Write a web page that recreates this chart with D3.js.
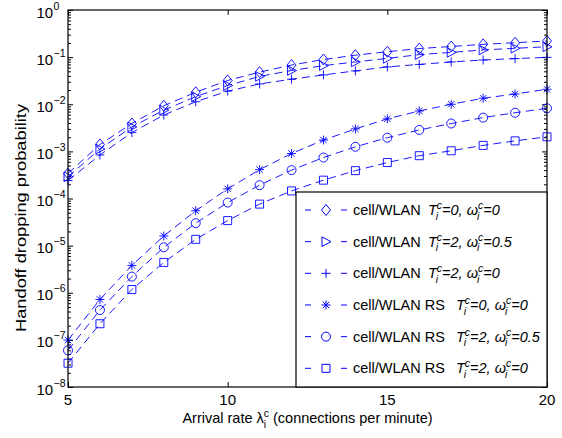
<!DOCTYPE html>
<html><head><meta charset="utf-8">
<script src="https://cdn.jsdelivr.net/npm/d3@7"></script>
<style>body{margin:0;background:#fff}svg{display:block}text{white-space:pre}</style>
</head><body><svg id="c" width="562" height="438"></svg>
<script>
// ---- data ----
const xValues = [5,6,7,8,9,10,11,12,13,14,15,16,17,18,19,20];
const cellT0W0 = [3.4e-4,1.4e-3,3.9e-3,9.3e-3,1.8e-2,3.2e-2,4.8e-2,6.8e-2,8.9e-2,0.110,0.130,0.152,0.168,0.187,0.202,0.220];
const cellT2W05 = [2.9e-4,1.12e-3,3.3e-3,7.5e-3,1.45e-2,2.5e-2,3.9e-2,5.2e-2,6.6e-2,7.9e-2,9.4e-2,0.113,0.126,0.142,0.154,0.166];
const cellT2W0 = [2.4e-4,8.4e-4,2.5e-3,5.9e-3,1.13e-2,1.9e-2,2.7e-2,3.4e-2,4.2e-2,5.1e-2,6.2e-2,7.0e-2,7.9e-2,8.7e-2,9.3e-2,9.9e-2];
const rsT0W0 = [9.9e-8,7.2e-7,3.8e-6,1.6e-5,5.5e-5,1.6e-4,4.1e-4,9.0e-4,1.74e-3,3.0e-3,4.9e-3,7.2e-3,1.0e-2,1.34e-2,1.65e-2,2.08e-2];
const rsT2W05 = [6.0e-8,4.3e-7,2.2e-6,9.2e-6,3.0e-5,8.2e-5,1.92e-4,4.0e-4,7.4e-4,1.25e-3,1.95e-3,2.85e-3,3.9e-3,5.2e-3,6.6e-3,8.2e-3];
const rsT2W0 = [3.2e-8,2.2e-7,1.17e-6,4.4e-6,1.36e-5,3.4e-5,7.6e-5,1.45e-4,2.45e-4,3.9e-4,5.8e-4,8.1e-4,1.03e-3,1.34e-3,1.67e-3,2.04e-3];
const seriesValues = [cellT0W0, cellT2W05, cellT2W0, rsT0W0, rsT2W05, rsT2W0];
const seriesMarkers = ['diamond','triangle','plus','star','circle','square'];
const legendSystem = ['cell/WLAN','cell/WLAN','cell/WLAN','cell/WLAN RS','cell/WLAN RS','cell/WLAN RS'];
const legendT = ['0','2','2','0','2','2'];
const legendW = ['0','0.5','0','0','0.5','0'];
const xTickValues = [5,10,15,20];
const yTickExponents = [0,-1,-2,-3,-4,-5,-6,-7,-8];
const xLabelMain = 'Arrival rate \u03BB';
const xLabelRest = ' (connections per minute)';
const yLabel = 'Handoff dropping probability';

// ---- layout ----
const FONT = '"Liberation Sans", Arial, Helvetica, sans-serif';
const L=68, R=547, T=10, B=387;
const BLUE = '#0000ff';
const svg = d3.select('#c').attr('font-family', FONT);
const x = d3.scaleLinear().domain([5,20]).range([L,R]);
const y = d3.scaleLog().domain([1e-8,1]).range([B,T]);

// ticks
const majorY = yTickExponents.map(e => Math.pow(10,e));
const minorY = [];
for (let e=-8;e<0;e++) for (let k=2;k<10;k++) minorY.push(k*Math.pow(10,e));

function styleAxis(g){
  g.select('.domain').remove();
  g.selectAll('line').attr('stroke','#000').attr('stroke-width',1);
  g.selectAll('text').remove();
}
svg.append('g').attr('transform',`translate(${L},0)`).call(d3.axisLeft(y).tickValues(majorY).tickSize(-5)).call(styleAxis);
svg.append('g').attr('transform',`translate(${L},0)`).call(d3.axisLeft(y).tickValues(minorY).tickSize(-3)).call(styleAxis);
svg.append('g').attr('transform',`translate(${R},0)`).call(d3.axisRight(y).tickValues(majorY).tickSize(-5)).call(styleAxis);
svg.append('g').attr('transform',`translate(${R},0)`).call(d3.axisRight(y).tickValues(minorY).tickSize(-3)).call(styleAxis);
svg.append('g').attr('transform',`translate(0,${B})`).call(d3.axisBottom(x).tickValues(xTickValues).tickSize(-5)).call(styleAxis);
svg.append('g').attr('transform',`translate(0,${T})`).call(d3.axisTop(x).tickValues(xTickValues).tickSize(-5)).call(styleAxis);

// y tick labels
yTickExponents.forEach(e => {
  const yy = y(Math.pow(10,e));
  svg.append('text').attr('x',36.5).attr('y',yy+7.5).attr('font-size',15).text('10');
  svg.append('text').attr('x',53.5).attr('y',yy-0.5).attr('font-size',10.5).text(e===0?'0':'\u2212'+(-e));
});
// x tick labels
xTickValues.forEach(v => {
  svg.append('text').attr('x',x(v)).attr('y',405).attr('font-size',15).attr('text-anchor','middle').text(v);
});

// ---- series ----
function markerPath(type, cx, cy){
  const p = d3.path();
  if (type==='diamond'){ p.moveTo(cx,cy-5.5); p.lineTo(cx+4.5,cy); p.lineTo(cx,cy+5.5); p.lineTo(cx-4.5,cy); p.closePath(); }
  else if (type==='triangle'){ p.moveTo(cx+5,cy); p.lineTo(cx-4,cy-4.8); p.lineTo(cx-4,cy+4.8); p.closePath(); }
  else if (type==='plus'){ p.moveTo(cx-4.5,cy); p.lineTo(cx+4.5,cy); p.moveTo(cx,cy-4.5); p.lineTo(cx,cy+4.5); }
  else if (type==='star'){ p.moveTo(cx-4.5,cy); p.lineTo(cx+4.5,cy); p.moveTo(cx,cy-4.5); p.lineTo(cx,cy+4.5);
    p.moveTo(cx-3.2,cy-3.2); p.lineTo(cx+3.2,cy+3.2); p.moveTo(cx-3.2,cy+3.2); p.lineTo(cx+3.2,cy-3.2); }
  else if (type==='circle'){ p.moveTo(cx+4.5,cy); p.arc(cx,cy,4.5,0,2*Math.PI); }
  else if (type==='square'){ p.rect(cx-4,cy-4,8,8); }
  return p.toString();
}
const line = d3.line().x(d=>x(d[0])).y(d=>y(d[1]));
seriesValues.forEach((vals,i) => {
  const pts = xValues.map((xv,j)=>[xv, vals[j]]);
  const g = svg.append('g');
  g.append('path').attr('d',line(pts)).attr('fill','none').attr('stroke',BLUE).attr('stroke-width',0.9).attr('stroke-dasharray','8,5');
  g.selectAll('path.m').data(pts).enter().append('path').attr('class','m')
    .attr('d',d=>markerPath(seriesMarkers[i], x(d[0]), y(d[1])))
    .attr('fill','none').attr('stroke',BLUE).attr('stroke-width',0.9);
});

// axes box
svg.append('rect').attr('x',L).attr('y',T).attr('width',R-L).attr('height',B-T)
  .attr('fill','none').attr('stroke','#000').attr('stroke-width',1.2);

// ---- rich text helper ----
function rich(g, x0, yb, parts, fs){
  let cx = x0;
  parts.forEach(p => {
    if (p.t !== undefined){
      const t = g.append('text').attr('x',cx).attr('y',yb).attr('font-size',fs)
        .attr('font-style',p.it?'italic':'normal').text(p.t);
      cx += t.node().getComputedTextLength();
    } else {
      const a = g.append('text').attr('x',cx).attr('y',yb-fs*0.42).attr('font-size',fs*0.72)
        .attr('font-style',p.it?'italic':'normal').text(p.sup);
      const b = g.append('text').attr('x',cx+(p.it?-1:0)).attr('y',yb+fs*0.32).attr('font-size',fs*0.72)
        .attr('font-style',p.it?'italic':'normal').text(p.sub);
      cx += Math.max(a.node().getComputedTextLength(), b.node().getComputedTextLength());
    }
  });
  return cx - x0;
}

// ---- legend ----
const LG = {x:296, y:192, w:R-296, h:B-192};
svg.append('rect').attr('x',LG.x).attr('y',LG.y).attr('width',LG.w).attr('height',LG.h)
  .attr('fill','#fff').attr('stroke','#000').attr('stroke-width',1.2);
const rowY = d3.scaleLinear().domain([0,5]).range([210,368.3]);
seriesMarkers.forEach((m,i) => {
  const cy = rowY(i);
  svg.append('line').attr('x1',305).attr('x2',347).attr('y1',cy).attr('y2',cy)
    .attr('stroke',BLUE).attr('stroke-width',1).attr('stroke-dasharray','6,30');
  svg.append('path').attr('d',markerPath(m,326,cy)).attr('fill','none').attr('stroke',BLUE).attr('stroke-width',1);
  const g = svg.append('g').attr('fill','#000');
  g.append('text').attr('x',353).attr('y',cy+5).attr('font-size',14.5).text(legendSystem[i]);
  const tx = i<3 ? 428 : 456;
  rich(g, tx, cy+5, [{t:'T',it:true},{sup:'c',sub:'i',it:true},{t:'='+legendT[i]+', \u03C9',it:true},{sup:'c',sub:'i',it:true},{t:'='+legendW[i],it:true}], 14.5);
});

// ---- axis labels ----
const xl = svg.append('g');
const wx = rich(xl, 0, 423, [{t:xLabelMain},{sup:'c',sub:'i'},{t:xLabelRest}], 14.5);
xl.attr('transform',`translate(${(L+R)/2 - wx/2},0)`);
svg.append('text').attr('transform','translate(26,218) rotate(-90)').attr('text-anchor','middle')
  .attr('font-size',15).attr('textLength',228).attr('lengthAdjust','spacingAndGlyphs').text(yLabel);
</script></body></html>
